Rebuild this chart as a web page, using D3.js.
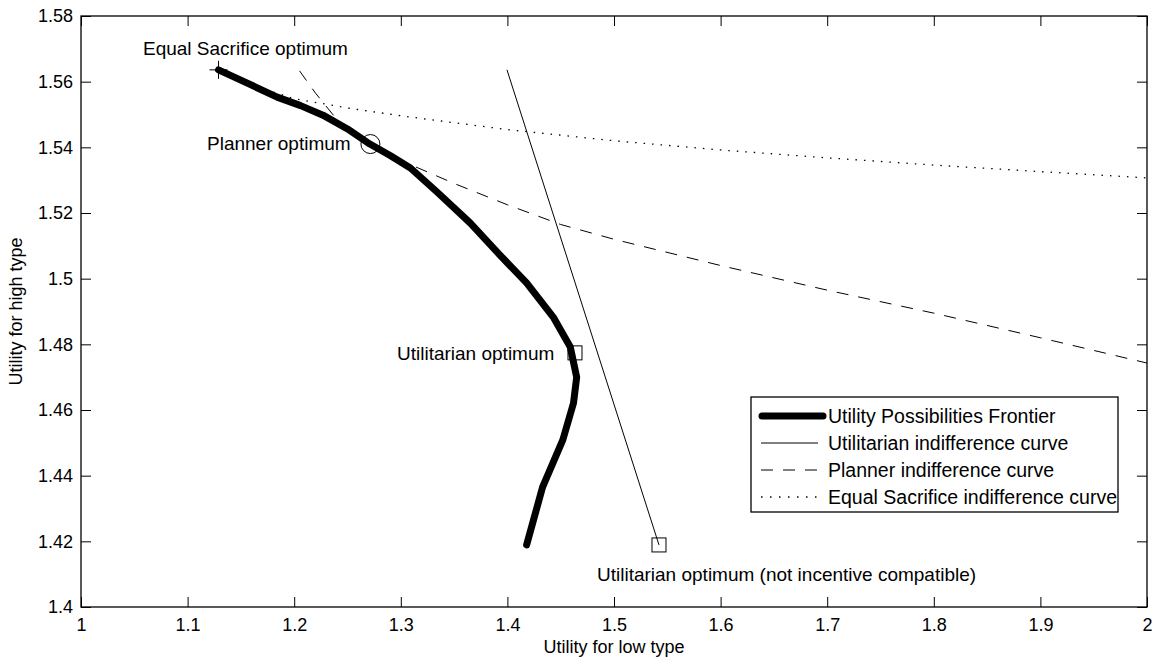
<!DOCTYPE html>
<html>
<head>
<meta charset="utf-8">
<script src="https://cdn.jsdelivr.net/npm/d3@7"></script>
<style>
  html, body { margin: 0; padding: 0; background: #fff; }
  svg { display: block; }
  text { font-family: "Liberation Sans", Arial, sans-serif; fill: #000; }
</style>
</head>
<body>
<script>
// ---------- data ----------
const xTickValues = [1, 1.1, 1.2, 1.3, 1.4, 1.5, 1.6, 1.7, 1.8, 1.9, 2];
const xTickLabels = ["1", "1.1", "1.2", "1.3", "1.4", "1.5", "1.6", "1.7", "1.8", "1.9", "2"];
const yTickValues = [1.4, 1.42, 1.44, 1.46, 1.48, 1.5, 1.52, 1.54, 1.56, 1.58];
const yTickLabels = ["1.4", "1.42", "1.44", "1.46", "1.48", "1.5", "1.52", "1.54", "1.56", "1.58"];

// Utility Possibilities Frontier
const frontierX = [1.129, 1.155, 1.184, 1.206, 1.227, 1.250, 1.271, 1.290, 1.309, 1.334, 1.365, 1.393, 1.418, 1.443, 1.459, 1.465, 1.462, 1.452, 1.433, 1.418];
const frontierY = [1.5636, 1.5597, 1.5553, 1.5527, 1.5498, 1.5456, 1.5410, 1.5375, 1.5337, 1.5264, 1.5170, 1.5072, 1.4987, 1.4883, 1.4792, 1.4700, 1.4621, 1.4509, 1.4365, 1.4189];

// Utilitarian indifference curve (straight line)
const utilX = [1.3996, 1.5422];
const utilY = [1.5636, 1.4189];

// Planner indifference curve
const plannerX = [1.205, 1.22, 1.24, 1.271, 1.30, 1.35, 1.40, 1.45, 1.50, 1.60, 1.70, 1.80, 1.90, 2.00];
const plannerY = [1.5633, 1.5565, 1.5485, 1.5410, 1.5360, 1.5290, 1.5225, 1.5165, 1.5120, 1.5040, 1.4965, 1.4895, 1.4820, 1.4743];

// Equal Sacrifice indifference curve
const esX = [1.129, 1.16, 1.20, 1.25, 1.30, 1.40, 1.50, 1.60, 1.70, 1.80, 1.90, 2.00];
const esY = [1.5636, 1.5590, 1.5548, 1.5520, 1.5496, 1.5454, 1.5420, 1.5392, 1.5368, 1.5346, 1.5326, 1.5307];

// Optimum markers
const markerNames = ["Equal Sacrifice optimum", "Planner optimum", "Utilitarian optimum", "Utilitarian optimum (not incentive compatible)"];
const markerX = [1.129, 1.2715, 1.4634, 1.5422];
const markerY = [1.5636, 1.5410, 1.4774, 1.4189];
const markerShapes = ["plus", "circle", "square", "square"];

const legendLabels = ["Utility Possibilities Frontier", "Utilitarian indifference curve", "Planner indifference curve", "Equal Sacrifice indifference curve"];

// ---------- layout ----------
const W = 1161, H = 658;
const L = 81, R = 1147, T = 16, B = 607;

const svg = d3.select("body").append("svg").attr("width", W).attr("height", H);
svg.append("rect").attr("width", W).attr("height", H).attr("fill", "#fff");

const x = d3.scaleLinear().domain([1, 2]).range([L, R]);
const y = d3.scaleLinear().domain([1.4, 1.58]).range([B, T]);

svg.append("defs").append("clipPath").attr("id", "clip")
  .append("rect").attr("x", L).attr("y", T).attr("width", R - L).attr("height", B - T);

// axes with inward ticks (box style)
const tickLen = 10;
const fontTick = 18;
const axB = d3.axisBottom(x).tickValues(xTickValues).tickFormat((d, i) => xTickLabels[i]).tickSizeInner(-tickLen).tickSizeOuter(0).tickPadding(11);
const axT = d3.axisTop(x).tickValues(xTickValues).tickFormat("").tickSizeInner(-tickLen).tickSizeOuter(0);
const axL = d3.axisLeft(y).tickValues(yTickValues).tickFormat((d, i) => yTickLabels[i]).tickSizeInner(-tickLen).tickSizeOuter(0).tickPadding(8);
const axR = d3.axisRight(y).tickValues(yTickValues).tickFormat("").tickSizeInner(-tickLen).tickSizeOuter(0);

function styleAxis(g) {
  g.select(".domain").remove();
  g.selectAll(".tick line").attr("stroke", "#000").attr("stroke-width", 1);
  g.selectAll("text").attr("font-size", fontTick).attr("font-family", "Liberation Sans, Arial, sans-serif").attr("fill", "#000");
}
svg.append("g").attr("transform", `translate(0,${B})`).call(axB).call(styleAxis);
svg.append("g").attr("transform", `translate(0,${T})`).call(axT).call(styleAxis);
svg.append("g").attr("transform", `translate(${L},0)`).call(axL).call(styleAxis);
svg.append("g").attr("transform", `translate(${R},0)`).call(axR).call(styleAxis);

// frame
svg.append("rect").attr("x", L).attr("y", T).attr("width", R - L).attr("height", B - T)
  .attr("fill", "none").attr("stroke", "#000").attr("stroke-width", 1.3);

// curves
const plot = svg.append("g").attr("clip-path", "url(#clip)");
const line = d3.line().x(d => x(d[0])).y(d => y(d[1]));
const zip = (a, b) => a.map((v, i) => [v, b[i]]);

plot.append("path").datum(zip(esX, esY)).attr("d", line)
  .attr("fill", "none").attr("stroke", "#000").attr("stroke-width", 1.3).attr("stroke-dasharray", "1.5,7");
plot.append("path").datum(zip(plannerX, plannerY)).attr("d", line)
  .attr("fill", "none").attr("stroke", "#000").attr("stroke-width", 1).attr("stroke-dasharray", "12,10");
plot.append("path").datum(zip(utilX, utilY)).attr("d", line)
  .attr("fill", "none").attr("stroke", "#000").attr("stroke-width", 1);
plot.append("path").datum(zip(frontierX, frontierY)).attr("d", line)
  .attr("fill", "none").attr("stroke", "#000").attr("stroke-width", 7)
  .attr("stroke-linejoin", "round").attr("stroke-linecap", "round");

// markers
markerShapes.forEach((s, i) => {
  const cx = x(markerX[i]), cy = y(markerY[i]);
  if (s === "plus") {
    plot.append("path").attr("d", `M${cx - 9},${cy}H${cx + 9}M${cx},${cy - 9}V${cy + 9}`)
      .attr("stroke", "#000").attr("stroke-width", 1);
  } else if (s === "circle") {
    plot.append("circle").attr("cx", cx).attr("cy", cy).attr("r", 9.5)
      .attr("fill", "none").attr("stroke", "#000").attr("stroke-width", 1);
  } else {
    plot.append("rect").attr("x", cx - 7).attr("y", cy - 7).attr("width", 14).attr("height", 14)
      .attr("fill", "none").attr("stroke", "#000").attr("stroke-width", 1);
  }
});

// annotations
const fontAnn = 19;
const annPos = [
  { x: 143, y: 55, anchor: "start" },
  { x: 207, y: 150, anchor: "start" },
  { x: 397, y: 360, anchor: "start" },
  { x: 597, y: 581, anchor: "start" }
];
markerNames.forEach((t, i) => {
  svg.append("text").attr("x", annPos[i].x).attr("y", annPos[i].y)
    .attr("font-size", fontAnn).attr("text-anchor", annPos[i].anchor).text(t);
});

// axis labels
svg.append("text").attr("x", (L + R) / 2).attr("y", 653).attr("text-anchor", "middle")
  .attr("font-size", 18).text("Utility for low type");
svg.append("text").attr("transform", `translate(22,${(T + B) / 2}) rotate(-90)`).attr("text-anchor", "middle")
  .attr("font-size", 18).text("Utility for high type");

// legend
const lg = svg.append("g");
const lgX = 751, lgY = 397, lgW = 367, lgH = 115;
lg.append("rect").attr("x", lgX).attr("y", lgY).attr("width", lgW).attr("height", lgH)
  .attr("fill", "#fff").attr("stroke", "#000").attr("stroke-width", 1.3);
const legendStyles = [
  { w: 7, dash: null, cap: "round" },
  { w: 1, dash: null, cap: "butt" },
  { w: 1, dash: "12,10", cap: "butt" },
  { w: 1.3, dash: "1.5,7.5", cap: "butt" }
];
legendLabels.forEach((t, i) => {
  const cy = 416 + i * 27;
  const st = legendStyles[i];
  const x0 = i === 0 ? 762 : 761, x1 = i === 0 ? 823 : 818;
  const p = lg.append("line").attr("x1", x0).attr("x2", x1).attr("y1", cy).attr("y2", cy)
    .attr("stroke", "#000").attr("stroke-width", st.w).attr("stroke-linecap", st.cap);
  if (st.dash) p.attr("stroke-dasharray", st.dash);
  lg.append("text").attr("x", 828).attr("y", cy).attr("dy", "0.35em")
    .attr("font-size", 19.5).text(t);
});
</script>
</body>
</html>
